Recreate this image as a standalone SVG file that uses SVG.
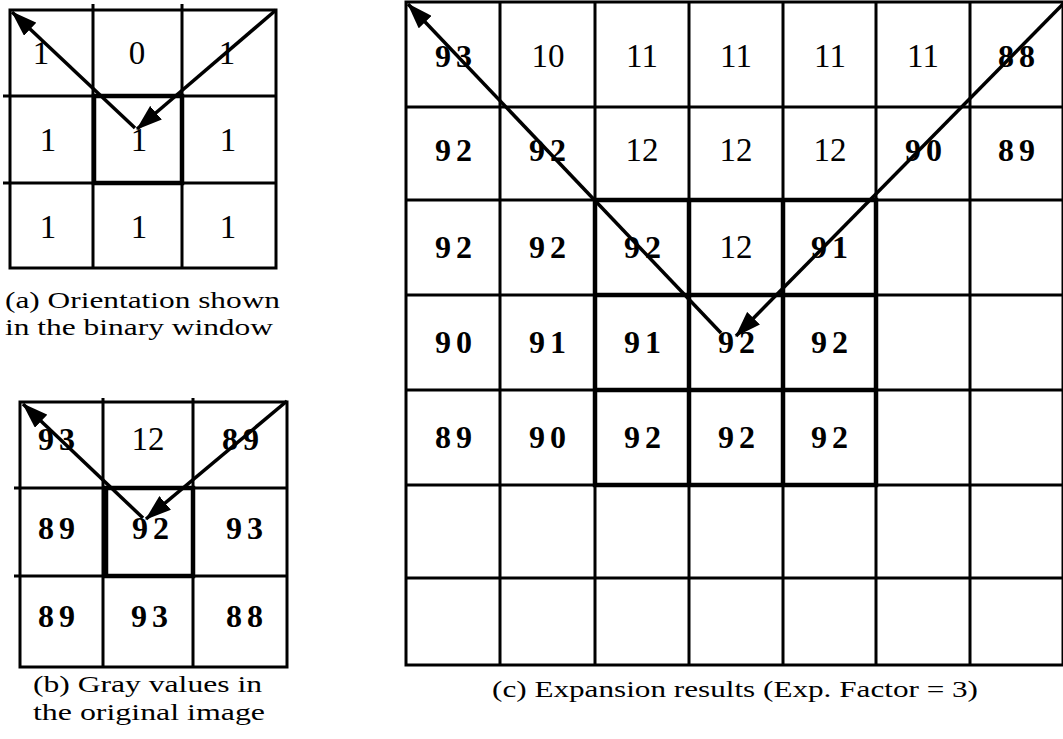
<svg xmlns="http://www.w3.org/2000/svg" width="1063" height="739" viewBox="0 0 1063 739">
<style>
.g{stroke:#000;stroke-width:3;fill:none}
.t{stroke:#000;stroke-width:4.5;fill:none}
.a{stroke:#000;stroke-width:3.5;fill:none}
.n{font-family:"Liberation Serif","Times New Roman",serif;font-size:33px;text-anchor:middle;fill:#000}
.b{font-family:"Liberation Serif","Times New Roman",serif;font-size:32px;font-weight:bold;text-anchor:middle;letter-spacing:5px;fill:#000}
.c{font-family:"Liberation Serif","Times New Roman",serif;font-size:24px;fill:#000}
</style>
<defs>
<marker id="ah" viewBox="0 0 26 18" refX="25" refY="9" markerWidth="26" markerHeight="18" markerUnits="userSpaceOnUse" orient="auto">
<path d="M0,0 L26,9 L0,18 z" fill="#000"/>
</marker>
</defs>
<rect width="1063" height="739" fill="#fff"/>

<g id="gridA">
<rect class="g" x="10" y="10" width="266" height="258"/>
<path class="g" d="M93,4 V268 M182,4 V268 M3,96 H276 M3,183 H276"/>
<rect class="t" x="94" y="96" width="88" height="87"/>
<text class="n" x="41" y="64">1</text>
<text class="n" x="137" y="64">0</text>
<text class="n" x="227" y="64">1</text>
<text class="n" x="48" y="151">1</text>
<text class="n" x="139" y="151">1</text>
<text class="n" x="228" y="151">1</text>
<text class="n" x="48" y="238">1</text>
<text class="n" x="139" y="238">1</text>
<text class="n" x="228" y="238">1</text>
</g>
<g id="captionA">
<text class="c" x="5" y="308" textLength="275" lengthAdjust="spacingAndGlyphs">(a) Orientation shown</text>
<text class="c" x="5" y="335" textLength="268" lengthAdjust="spacingAndGlyphs">in the binary window</text>
</g>

<g id="gridB">
<rect class="g" x="20" y="402" width="267" height="265"/>
<path class="g" d="M103,398 V667 M193,398 V667 M14,488 H287 M14,576 H287"/>
<rect class="t" x="106" y="488" width="87" height="88"/>
<text class="b" x="59" y="450">93</text>
<text class="n" x="148" y="450">12</text>
<text class="b" x="243" y="450">89</text>
<text class="b" x="59" y="539">89</text>
<text class="b" x="153" y="539">92</text>
<text class="b" x="247" y="539">93</text>
<text class="b" x="59" y="627">89</text>
<text class="b" x="152" y="627">93</text>
<text class="b" x="247" y="627">88</text>
</g>
<g id="captionB">
<text class="c" x="33" y="692" textLength="229" lengthAdjust="spacingAndGlyphs">(b) Gray values in</text>
<text class="c" x="33" y="720" textLength="232" lengthAdjust="spacingAndGlyphs">the original image</text>
</g>

<g id="gridC">
<rect class="g" x="406" y="2" width="657" height="663"/>
<path class="g" d="M500,2 V665 M595,2 V665 M689,2 V665 M783,2 V665 M876,2 V665 M970,2 V665 M406,107 H1063 M406,200 H1063 M406,295 H1063 M406,390 H1063 M406,485 H1063 M406,578 H1063"/>
<rect class="t" x="595" y="200" width="281" height="285"/>
<path class="t" d="M689,200 V485 M783,200 V485 M595,295 H876 M595,390 H876"/>
<text class="b" x="456" y="67">93</text>
<text class="n" x="548" y="67">10</text>
<text class="n" x="642" y="67">11</text>
<text class="n" x="736" y="67">11</text>
<text class="n" x="830" y="67">11</text>
<text class="n" x="923" y="67">11</text>
<text class="b" x="1019" y="67">88</text>
<text class="b" x="456" y="161">92</text>
<text class="b" x="550" y="161">92</text>
<text class="n" x="642" y="161">12</text>
<text class="n" x="736" y="161">12</text>
<text class="n" x="830" y="161">12</text>
<text class="b" x="926" y="161">90</text>
<text class="b" x="1019" y="161">89</text>
<text class="b" x="456" y="258">92</text>
<text class="b" x="550" y="258">92</text>
<text class="b" x="645" y="258">92</text>
<text class="n" x="736" y="258">12</text>
<text class="b" x="832" y="258">91</text>
<text class="b" x="456" y="353">90</text>
<text class="b" x="550" y="353">91</text>
<text class="b" x="645" y="353">91</text>
<text class="b" x="739" y="353">92</text>
<text class="b" x="832" y="353">92</text>
<text class="b" x="456" y="448">89</text>
<text class="b" x="550" y="448">90</text>
<text class="b" x="645" y="448">92</text>
<text class="b" x="739" y="448">92</text>
<text class="b" x="832" y="448">92</text>
</g>
<g id="captionC">
<text class="c" x="492" y="697" textLength="486" lengthAdjust="spacingAndGlyphs">(c) Expansion results (Exp. Factor = 3)</text>
</g>

<g id="connectors">
<line class="a" x1="135" y1="128" x2="12" y2="12" marker-end="url(#ah)"/>
<line class="a" x1="276" y1="10" x2="137" y2="129" marker-end="url(#ah)"/>
<line class="a" x1="143" y1="518" x2="23" y2="404" marker-end="url(#ah)"/>
<line class="a" x1="287" y1="401" x2="146" y2="519" marker-end="url(#ah)"/>
<line class="a" x1="721" y1="333" x2="408" y2="4" marker-end="url(#ah)"/>
<line class="a" x1="1063" y1="4" x2="736" y2="336" marker-end="url(#ah)"/>
</g>
</svg>
